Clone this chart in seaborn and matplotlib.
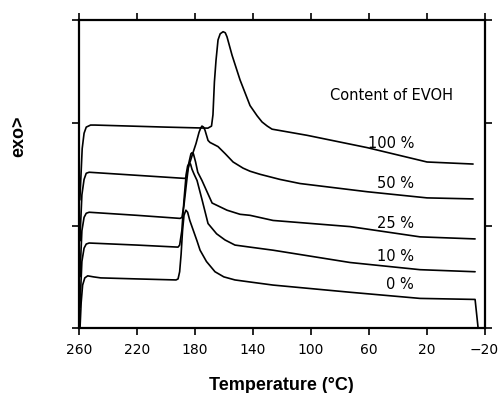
import matplotlib
matplotlib.use("Agg")
import matplotlib.pyplot as plt
import seaborn as sns
import pandas as pd

# ---- data (temperature in °C, heat flow in arbitrary stacked units) ----
t_100 = [260, 259.4, 257.8, 256.5, 255, 252, 249, 200, 171, 168.5, 167.5, 166.5, 165.4, 164.0, 162.5,
         160.5, 159, 157.8, 154.3, 148.8, 141.9, 137, 133.6, 130, 126.7, 102.5, 61, 19.7, -12.1]
y_100 = [1.45, 1.25, 1.75, 1.90, 1.96, 1.98, 1.98, 1.96, 1.95, 1.97, 2.08, 2.40, 2.61, 2.81, 2.87,
         2.89, 2.88, 2.84, 2.66, 2.42, 2.17, 2.07, 2.01, 1.97, 1.94, 1.88, 1.76, 1.62, 1.60]

t_50 = [260, 259.4, 258, 256.5, 255, 253, 220, 187, 186, 184.7, 183.3, 181.3, 179.2, 177.1, 176, 175.1,
        174, 173, 170.9, 169.5, 168.1, 164, 159, 153.6, 146.7, 141.9, 135, 121.2, 107.4, 61, 19.7, -12.1]
y_50 = [1.00, 0.85, 1.30, 1.45, 1.51, 1.52, 1.49, 1.46, 1.47, 1.56, 1.62, 1.71, 1.80, 1.91, 1.95, 1.97,
        1.96, 1.93, 1.83, 1.81, 1.80, 1.77, 1.70, 1.62, 1.56, 1.53, 1.50, 1.45, 1.41, 1.33, 1.27, 1.26]

t_25 = [260, 259.4, 258, 256.5, 255, 253, 220, 190.2, 188.9, 187.5, 185.5, 184, 182.7, 182, 181, 179.5,
        178, 175.1, 168.1, 157.8, 148.8, 141.9, 126, 72.8, 24.5, -13.5]
y_25 = [0.65, 0.50, 0.95, 1.08, 1.12, 1.13, 1.10, 1.07, 1.08, 1.20, 1.45, 1.62, 1.70, 1.71, 1.70, 1.62,
        1.52, 1.44, 1.22, 1.15, 1.11, 1.10, 1.05, 0.99, 0.89, 0.87]

t_10 = [260, 259.4, 258, 256.5, 255, 253, 220, 191.6, 190.5, 189, 187.5, 186, 185, 184, 183, 182,
        180.5, 178.5, 175, 170.9, 165, 159.2, 152.3, 141.9, 126, 72.8, 24.5, -13.5]
y_10 = [0.35, 0.20, 0.65, 0.78, 0.82, 0.83, 0.81, 0.79, 0.81, 0.95, 1.25, 1.50, 1.58, 1.61, 1.60, 1.55,
        1.50, 1.44, 1.25, 1.02, 0.92, 0.86, 0.81, 0.79, 0.76, 0.64, 0.57, 0.55]

t_0 = [259.3, 258.5, 257.5, 256, 254, 250, 245, 220, 193, 191.6, 190.5, 189.5, 188.5, 187.5, 186.2, 185,
       183.5, 181, 178.5, 176.4, 172, 166.1, 160, 152.3, 141.9, 126, 72.8, 24.5, -13.5, -15.6]
y_0 = [0.00, 0.25, 0.42, 0.49, 0.51, 0.50, 0.49, 0.48, 0.47, 0.48, 0.55, 0.72, 0.95, 1.10, 1.15, 1.13,
       1.05, 0.95, 0.85, 0.76, 0.65, 0.55, 0.50, 0.47, 0.45, 0.42, 0.35, 0.29, 0.28, 0.00]

series_labels = ["100 %", "50 %", "25 %", "10 %", "0 %"]
series_t = [t_100, t_50, t_25, t_10, t_0]
series_y = [y_100, y_50, y_25, y_10, y_0]
label_y = [1.80, 1.41, 1.02, 0.70, 0.43]

x_ticks = [260, 220, 180, 140, 100, 60, 20, -20]
y_ticks = [0, 1, 2, 3]

# ---- style ----
sns.set_theme(style="ticks")
plt.rcParams["font.family"] = ["DejaVu Sans"]
plt.rcParams["text.color"] = "black"
plt.rcParams["axes.labelcolor"] = "black"
plt.rcParams["xtick.color"] = "black"
plt.rcParams["ytick.color"] = "black"

fig = plt.figure(figsize=(5.0, 3.93), dpi=100)
ax = fig.add_axes([0.158, 0.165, 0.811, 0.783])

for lab, t, y in zip(series_labels, series_t, series_y):
    df = pd.DataFrame({"T": t, "v": y})
    sns.lineplot(data=df, x="T", y="v", sort=False, estimator=None,
                 color="black", linewidth=1.2, ax=ax)

ax.set_xlim(260, -20)
ax.set_ylim(0, 3)
ax.set_xticks(x_ticks)
ax.set_xticklabels([str(v) if v >= 0 else "\u221220" for v in x_ticks], fontsize=10)
ax.set_yticks(y_ticks)
ax.set_yticklabels([])
ax.tick_params(axis="both", which="both", direction="out", length=5, width=1.2,
               top=True, right=True, bottom=True, left=True, labeltop=False, labelright=False,
               colors="black", pad=6)
for s in ax.spines.values():
    s.set_visible(True)
    s.set_linewidth(1.6)
    s.set_color("black")

ax.set_xlabel("Temperature (\u00b0C)", fontsize=13, fontweight="bold", labelpad=14,
              family="Liberation Sans", color="black")
ax.set_ylabel("")
fig.text(0.038, 0.654, "exo>", rotation=90, fontsize=13, fontweight="bold",
         ha="center", va="center", family="Liberation Sans", color="black")

ax.text(44.5, 2.27, "Content of EVOH", fontsize=10.5, ha="center", va="center", color="black")
for lab, ly in zip(series_labels, label_y):
    ax.text(28.6, ly, lab, fontsize=10.5, ha="right", va="center", color="black")

fig.savefig("out.png", dpi=100)
